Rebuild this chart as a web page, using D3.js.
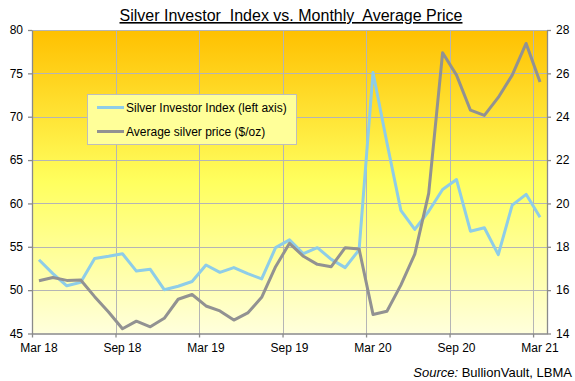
<!DOCTYPE html>
<html>
<head>
<meta charset="utf-8">
<script src="https://cdn.jsdelivr.net/npm/d3@7"></script>
<style>
  html, body { margin: 0; padding: 0; background: #fff; }
  svg { display: block; font-family: "Liberation Sans", Arial, sans-serif; }
</style>
</head>
<body>
<div id="chart"></div>
<script>
// ---- Data ----
const months = ["Mar 18","Apr 18","May 18","Jun 18","Jul 18","Aug 18","Sep 18","Oct 18","Nov 18","Dec 18",
  "Jan 19","Feb 19","Mar 19","Apr 19","May 19","Jun 19","Jul 19","Aug 19","Sep 19","Oct 19","Nov 19","Dec 19",
  "Jan 20","Feb 20","Mar 20","Apr 20","May 20","Jun 20","Jul 20","Aug 20","Sep 20","Oct 20","Nov 20","Dec 20",
  "Jan 21","Feb 21","Mar 21"];
const investorIndex = [53.5, 51.9, 50.5, 50.9, 53.65, 53.9, 54.2, 52.2, 52.4, 50.05,
  50.45, 51.0, 52.9, 52.05, 52.6, 51.9, 51.3, 54.9, 55.8, 54.2, 54.9, 53.55,
  52.6, 54.65, 75.1, 67.0, 59.2, 57.0, 59.1, 61.6, 62.75, 56.8, 57.2, 54.1,
  59.8, 61.05, 58.4];
const silverPrice = [16.43, 16.58, 16.45, 16.47, 15.7, 14.99, 14.22, 14.57, 14.31, 14.7,
  15.58, 15.8, 15.27, 15.04, 14.62, 14.95, 15.67, 17.08, 18.16, 17.56, 17.19, 17.08,
  17.96, 17.9, 14.88, 15.03, 16.23, 17.66, 20.46, 26.95, 25.92, 24.3, 24.06, 24.89,
  25.92, 27.38, 25.6];
const xTickLabels = ["Mar 18","Sep 18","Mar 19","Sep 19","Mar 20","Sep 20","Mar 21"];
const leftTicks = [45, 50, 55, 60, 65, 70, 75, 80];
const rightTicks = [14, 16, 18, 20, 22, 24, 26, 28];
const seriesNames = ["Silver Investor Index (left axis)", "Average silver price ($/oz)"];
const titleText = "Silver Investor  Index vs. Monthly  Average Price";
const sourceLabel = "Source:";
const sourceText = " BullionVault, LBMA";

// ---- Layout ----
const W = 575, H = 381;
const plot = { left: 32, right: 547, top: 30, bottom: 333.5 };
const colors = { index: "#8ECDE8", price: "#929292", grid: "#B5B5B5", axis: "#8A8A8A" };

const svg = d3.select("#chart").append("svg").attr("width", W).attr("height", H);

const defs = svg.append("defs");
const grad = defs.append("linearGradient").attr("id", "bg").attr("x1", 0).attr("y1", 0).attr("x2", 0).attr("y2", 1);
grad.append("stop").attr("offset", "0%").attr("stop-color", "#FFC000");
grad.append("stop").attr("offset", "50%").attr("stop-color", "#FFFF5E");
grad.append("stop").attr("offset", "100%").attr("stop-color", "#FFFFDC");

const x = d3.scaleLinear().domain([-0.5, months.length - 0.5]).range([plot.left, plot.right]);
const yL = d3.scaleLinear().domain([45, 80]).range([plot.bottom, plot.top]);
const yR = d3.scaleLinear().domain([14, 28]).range([plot.bottom, plot.top]);

// background
svg.append("rect").attr("x", plot.left).attr("y", plot.top)
  .attr("width", plot.right - plot.left).attr("height", plot.bottom - plot.top)
  .attr("fill", "url(#bg)");

// gridlines
const labelIdx = xTickLabels.map(l => months.indexOf(l));
const boundaries = labelIdx.map(i => i - 0.5);
svg.append("g").selectAll("line.h").data(leftTicks.filter(t => t > 45)).join("line")
  .attr("x1", plot.left).attr("x2", plot.right)
  .attr("y1", d => Math.round(yL(d)) + 0.5).attr("y2", d => Math.round(yL(d)) + 0.5)
  .attr("stroke", colors.grid).attr("stroke-width", 1);
svg.append("g").selectAll("line.v").data(boundaries.filter(b => b > -0.5)).join("line")
  .attr("x1", d => Math.round(x(d)) + 0.5).attr("x2", d => Math.round(x(d)) + 0.5)
  .attr("y1", plot.top).attr("y2", plot.bottom)
  .attr("stroke", colors.grid).attr("stroke-width", 1);

// axes
function styleAxis(g) {
  g.select(".domain").attr("stroke", colors.axis).attr("stroke-width", 1.3);
  g.selectAll(".tick line").attr("stroke", colors.axis).attr("stroke-width", 1.3);
  g.selectAll(".tick text").attr("fill", "#000").attr("font-size", 12)
    .attr("font-family", "'Liberation Sans', Arial, sans-serif");
}
svg.append("g").attr("transform", `translate(${plot.left},0)`)
  .call(d3.axisLeft(yL).tickValues(leftTicks).tickSize(4).tickSizeOuter(0).tickPadding(5))
  .call(styleAxis);
svg.append("g").attr("transform", `translate(${plot.right},0)`)
  .call(d3.axisRight(yR).tickValues(rightTicks).tickSize(4).tickSizeOuter(0).tickPadding(5))
  .call(styleAxis);
svg.append("g").attr("transform", `translate(0,${plot.bottom})`)
  .call(d3.axisBottom(x).tickValues(boundaries).tickSize(4).tickSizeOuter(0).tickFormat(""))
  .call(styleAxis);
svg.append("g").selectAll("text").data(xTickLabels).join("text")
  .attr("x", (d, i) => x(labelIdx[i])).attr("y", 352)
  .attr("text-anchor", "middle").attr("font-size", 12).attr("fill", "#000")
  .text(d => d);

// lines
const lineL = d3.line().x((d, i) => x(i)).y(d => yL(d));
const lineR = d3.line().x((d, i) => x(i)).y(d => yR(d));
svg.append("path").datum(investorIndex).attr("d", lineL)
  .attr("fill", "none").attr("stroke", colors.index).attr("stroke-width", 3).attr("stroke-linejoin", "round");
svg.append("path").datum(silverPrice).attr("d", lineR)
  .attr("fill", "none").attr("stroke", colors.price).attr("stroke-width", 3).attr("stroke-linejoin", "round");

// legend
const lg = svg.append("g");
lg.append("rect").attr("x", 87.5).attr("y", 94.5).attr("width", 209).attr("height", 50)
  .attr("fill", "#FFFF99").attr("stroke", "#BDBDBD").attr("stroke-width", 1);
[colors.index, colors.price].forEach((c, i) => {
  const yy = 107.5 + i * 24;
  lg.append("line").attr("x1", 97).attr("x2", 124).attr("y1", yy).attr("y2", yy)
    .attr("stroke", c).attr("stroke-width", 3);
  lg.append("text").attr("x", 126).attr("y", yy).attr("dy", "0.35em")
    .attr("font-size", 12).attr("fill", "#000").text(seriesNames[i]);
});

// title
svg.append("text").attr("x", 291).attr("y", 21)
  .attr("text-anchor", "middle").attr("font-size", 16).attr("fill", "#000")
  .style("white-space", "pre").style("text-decoration", "underline")
  .text(titleText);

// source
const src = svg.append("text").attr("x", 572).attr("y", 377)
  .attr("text-anchor", "end").attr("font-size", 13).attr("fill", "#000")
  .style("white-space", "pre");
src.append("tspan").attr("font-style", "italic").text(sourceLabel);
src.append("tspan").text(sourceText);
</script>
</body>
</html>
